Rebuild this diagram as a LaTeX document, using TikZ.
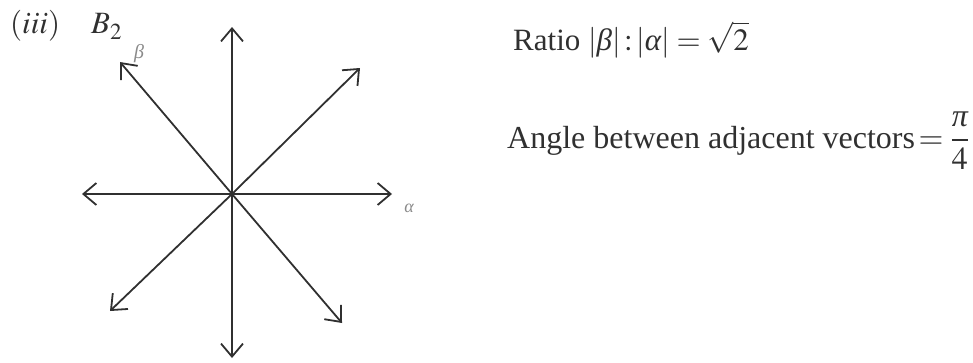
\documentclass[tikz,border=0pt]{standalone}
\usepackage{amsmath}
\usepackage{mathptmx}
\usepackage{fontspec}
\setmainfont{Liberation Serif}
\usetikzlibrary{arrows.meta}
\definecolor{ink}{HTML}{303030}
\definecolor{faint}{HTML}{8A8A8A}
\newcommand{\gk}[1]{\text{\itshape #1}}
\begin{document}
\begin{tikzpicture}[x=1pt,y=-1pt,
  vec/.style={draw=ink,line width=1.8pt,-{Straight Barb[length=13pt,width=22pt,line width=1.8pt]}},
  txt/.style={inner sep=0pt,anchor=base west,text=ink,font=\fontsize{31}{37}\selectfont},
  lab/.style={inner sep=0pt,text=faint}]
\useasboundingbox (0,0) rectangle (973,362);
\coordinate (O) at (232,194);
\coordinate (N) at (232,27);
\coordinate (S) at (232,358);
\coordinate (W) at (82,194);
\coordinate (E) at (392,194);
\coordinate (NW) at (120,62);
\coordinate (NE) at (360,68);
\coordinate (SW) at (110,311);
\coordinate (SE) at (342,323);
\foreach \t in {N,S,W,E,NW,NE,SW,SE}{\draw[vec] (O) -- (\t);}
\node[txt] (iii) at (10,33) {$(iii)$};
\node[txt] (B2) at (91,33) {$B_{\raisebox{-2pt}{$\scriptstyle 2$}}$};
\node[lab,font=\fontsize{20}{24}\selectfont\itshape] (beta) at (139,54) {β};
\node[lab,font=\fontsize{18}{22}\selectfont\itshape] (alpha) at (409,208) {α};
\node[txt] (ratio) at (513,50) {Ratio $|\gk{β}|\,{:}\,|\gk{α}|=\sqrt{2}$};
\node[txt,font=\fontsize{32}{38}\selectfont] (angle) at (507,148) {Angle between adjacent vectors$\,=\dfrac{\gk{π}}{4}$};
\end{tikzpicture}
\end{document}
